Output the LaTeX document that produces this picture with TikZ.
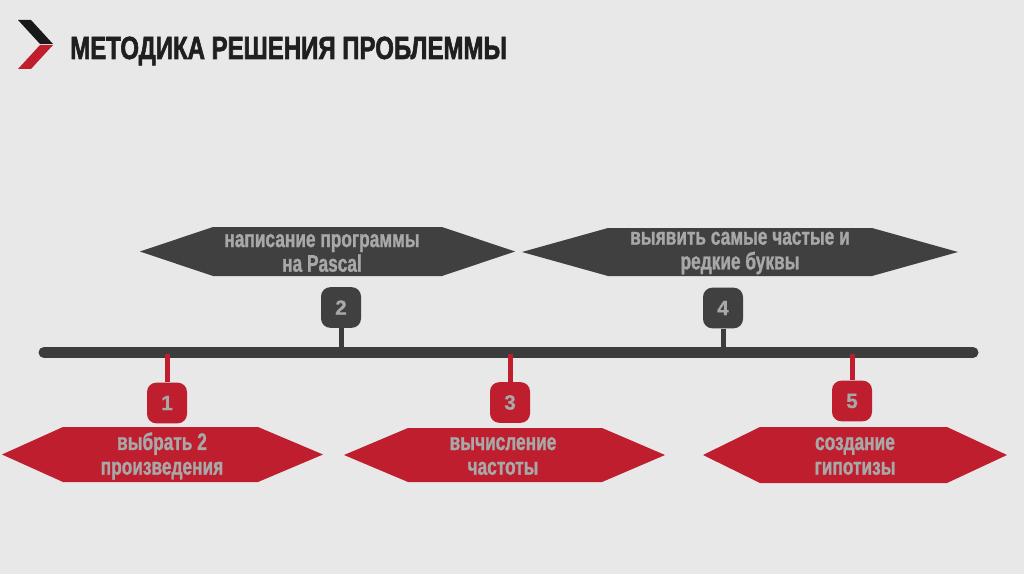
\documentclass[tikz,border=0pt]{standalone}
\usepackage{fontspec}
\newfontfamily\condf[FakeStretch=0.72,BoldFeatures={FakeBold=1.1}]{Liberation Sans}
\newfontfamily\titlef[FakeStretch=0.75,BoldFeatures={FakeBold=1.8}]{Liberation Sans}
\newfontfamily\numf[BoldFeatures={FakeBold=0.8}]{Liberation Sans}
\definecolor{bg}{HTML}{E8E8E8}
\definecolor{dk}{HTML}{404040}
\definecolor{barc}{HTML}{3C3C3C}
\definecolor{rd}{HTML}{BE1E2D}
\definecolor{txt}{HTML}{A8A8A8}
\tikzset{
  hexlabel/.style={text=txt, align=center, inner sep=0pt,
    font=\condf\bfseries\fontsize{18pt}{18.5pt}\selectfont},
  numbox/.style={rounded corners=7pt, minimum width=30pt, minimum height=30.5pt,
    inner sep=0pt, text=txt, font=\numf\bfseries\fontsize{15.5pt}{15.5pt}\selectfont},
  darkbox/.style={numbox, fill=dk},
  redbox/.style={numbox, fill=rd},
  stemdark/.style={draw=barc, line width=3.75pt},
  stemred/.style={draw=rd, line width=3.75pt},
}
\newcommand{\hexshape}[7]{% color, lefttip, leftcorner, rightcorner, righttip, top, bottom
  \fill[#1] (#2,{(#6+#7)/2}) -- (#3,#6) -- (#4,#6) -- (#5,{(#6+#7)/2}) -- (#4,#7) -- (#3,#7) -- cycle;}
\begin{document}
\begin{tikzpicture}[x=0.75pt,y=-0.75pt]
\fill[bg] (0,0) rectangle (1024,574);
\useasboundingbox (0,0) rectangle (1024,574);
% logo
\fill[black!90] (18,20) -- (31,20) -- (53,44) -- (40,44) -- cycle;
\fill[rd] (40,45) -- (53,45) -- (31,69) -- (18,69) -- cycle;
\node[anchor=west, inner sep=0pt, font=\titlef\bfseries\fontsize{24pt}{24pt}\selectfont, text=black!88] (title) at (70,51) {МЕТОДИКА РЕШЕНИЯ ПРОБЛЕММЫ};
% timeline bar
\coordinate (barL) at (44,352.5);
\coordinate (barR) at (973,352.5);
\draw[barc, line width=8.25pt, line cap=round] (barL) -- (barR);
% top hexagons
\hexshape{dk}{140}{213}{442}{515}{227}{276}
\hexshape{dk}{522}{608}{872}{958}{228}{276}
\node[hexlabel] (h2) at (322,253) {написание программы\\на Pascal};
\node[hexlabel] (h4) at (740,253) {выявить самые частые и\\редкие буквы};
% bottom hexagons
\hexshape{rd}{2}{63}{258}{323}{427}{482}
\hexshape{rd}{344}{408}{602}{665}{428}{482}
\hexshape{rd}{703}{760}{947}{1007}{427}{483}
\node[hexlabel] (h1) at (162,456) {выбрать 2\\произведения};
\node[hexlabel] (h3) at (503,456) {вычисление\\частоты};
\node[hexlabel] (h5) at (855,456) {создание\\гипотизы};
% number boxes
\node[darkbox] (n2) at (341,307.5) {2};
\node[darkbox] (n4) at (723,308) {4};
\node[redbox] (n1) at (167,403) {1};
\node[redbox] (n3) at (510,402.5) {3};
\node[redbox] (n5) at (852,401) {5};
% stems
\draw[stemdark] (n2.south) -- (n2.south |- barL);
\draw[stemdark] (n4.south) -- (n4.south |- barL);
\draw[stemred] (n1.north) -- ([yshift=-1pt]n1.north |- barL);
\draw[stemred] (n3.north) -- ([yshift=-1pt]n3.north |- barL);
\draw[stemred] (n5.north) -- ([yshift=-1pt]n5.north |- barL);
\end{tikzpicture}
\end{document}
